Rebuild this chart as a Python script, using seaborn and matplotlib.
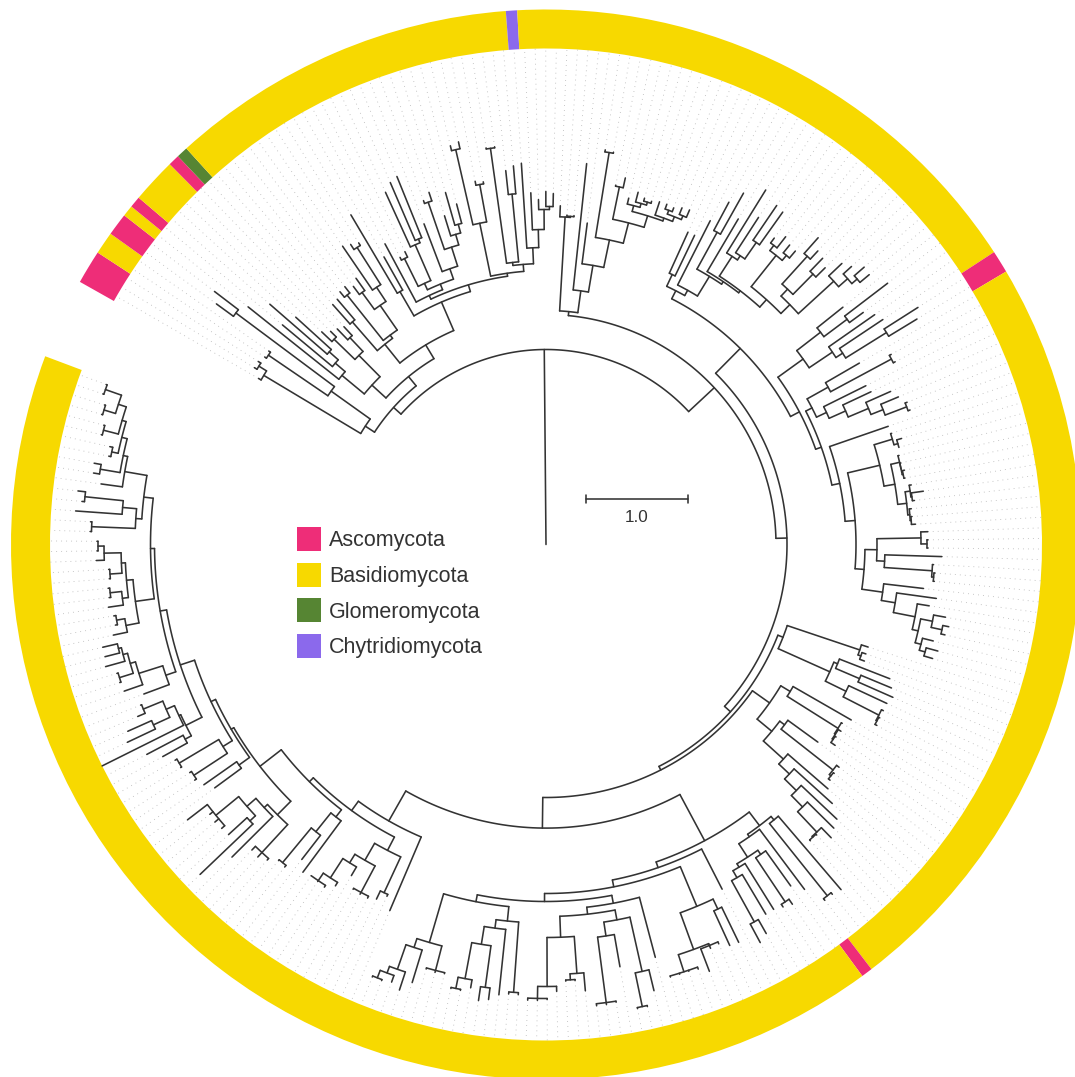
import matplotlib
matplotlib.use('Agg')

import numpy as np
import pandas as pd
import seaborn as sns
import matplotlib.pyplot as plt
from matplotlib.patches import Patch

# Tree. A node is [depth, child, child, ...], a plain number is a leaf.
# Depth is measured from the root, 102 depth units = 1.0 on the scale bar.
clade_a1 = [216, [329, 332, [338, 341, 341]], [264, [336, 338, 338], [387, 408, 417]]]
clade_a2 = [236, [265, 381, [278, 343, [290, 366, 338]]], [266, [295, 309, 303], [285, 300, 297]]]
clade_c1 = [257, [295, 321, 322], [261, [319, 326, 327], [291, [312, 322, 327], [308, 361, [352, 358, 355]]]]]
clade_e1 = [275, 341, [281,
    [288, [319, 322, 325], [327, 387, [331, 394, 397]]],
    [292, 343, [312, [362, 365, 371], [323, 344, [332, 366, 352]]]]]]
clade_e2 = [274, [328, [405, 410, 412], [366, 370, 368]],
    [281, [284, [400, 401, 401], [352, 376, 380]], [297, 382, [315, 352, [335, 345, [338, 353, 351]]]]]]
clade_d = [264, [292, 383, 330], [271, clade_e1, clade_e2]]
clade_a = [205, clade_a1, [217, clade_a2, [233, clade_c1, clade_d]]]

clade_h = [234, [328, 339, [329, 330, 330]], [256, 383, [283, 324, [311, [397, 399, 398], [332, [365, 366, 375], [344,
    [350, 356, [354, 364, [357, 360, 359]]],
    [347, 361, [352, [356, 361, 360], [356, 363, 364]]]]]]]]]

clade_q = [329.5, [369.5, [376, 382, 390], [376, 386, 385]],
    [342, [351.5, [389, 410, 400], [380, 398, 393]], [390, 408, [402, 413, [409, 422, 421]]]]]
clade_m = [343, 417, [348, 390, [368, 410, 408]]]
clade_k = [285, [298, 343, 343], [291, 363, [314, [356, 388, 403], [317, 378, [319.5, clade_m, clade_q]]]]]
clade_l = [317, [347, 380, [376, 430, 393]], [345, 401, [353, 405, [401, 441, 434]]]]
clade_r1 = [299, [323, 362, [392, 394, 394]], [310, 357, [328, 359, [350, 377, [363, 382, [386, 388, 388]]]]]]
clade_t1 = [343, [362, 363, [366, 371, 366]], [354, [363, 364, [363, 364, [364, 366, 365]]],
    [363, [368, 370, [369, 381, 371]], [365, 367, [366, 367, 370]]]]]
clade_t2 = [319, [331, [375, 382, [381, 382, 382]], [339, 396, [387, 388, [389, 390, 390]]]],
    [340, 380, [354, 394, [376, 388, [382, [394, 406, [405, 411, 409]], [388, 399, [394, 406, 403]]]]]]]
clade_j = [276, clade_k, [286, clade_l, [292, clade_r1, [300, 362, [310, clade_t1, clade_t2]]]]]

clade_v1 = [254.5, [331, 338, [334, 338, 339]],
    [311, [315, 369, [341, 374, 379]], [334, 376, [374, 376, [375, 376, 377]]]]]
clade_w1 = [274, [285, 352, [345, 346, [346, 349, [347, 348, 352]]]],
    [293, [299, 336, [365, 368, [367, 368, 369]]],
     [320, 373, [334.5, 386, [351, 400, [367, 404, [395, 409, [396, 397, 397]]]]]]]]

clade_x21 = [353, [357.5, 454, [450, 452, 452]],
    [356, 431, [372, [377, 420, [430, 436, 433]], [376, 430, [384, 430, [431, 447, 452]]]]]]
clade_z1 = [392, [403, 442, 441], [431, [433, 435, 436, 457], [449, 451, 450, 450, 450]]]
clade_dd = [382, [437.6, 459, [472, 473, 473]], [396, 428.6, [462, 463, 464, 464]]]
clade_ee = [393, [430, 448, [436, 437, 437]], [442, 447, [454, 455, 456, 456]]]
clade_ff = [378.5, [449, 451, 451], [387, 452.7, [405, [447, 458.6, 461], [441.6, 449.6, [453, 454, 454]]]]]
clade_gg = [414.7, [440, 441, 442, 441], [424, 458, [450, 469, [457, 464, [465, 466, 466]]]]]
clade_x2 = [336, clade_x21, [342, 387, [349, clade_z1,
    [357, [365, 427, [372, clade_dd, clade_ee]], [364, clade_ff, clade_gg]]]]]

clade_hh = [344.5, [384, 386, 393],
    [364, [394, 396, 396, 395], [374, 384, [397, 401, [406, 408, 407, 406]]]]]
clade_mm = [344, 408, [368, 398.5, [413, 415, 414]]]
clade_oo = [381, [419, 421, 425, 424],
    [385.5, 443, [397.5, [405, 478, 430], [427, 431, 432, 431, 452]]]]
clade_xx = [403, [410, 438, 451], [405, 496, [414, [432, 463, 458], [435, 443, 436]]]]
clade_zz = [402, 429, [427, 446.5, [432.4, [446.8, 448, 448], [437, 457, [440, 455, 455]]]]]
clade_bbb = [414.5, [427.7, 442, [436, 438, 438]],
    [421, [427, 442, [438.5, 440, 440]], [425, [437, 438, 438], [442, 450, [448, 449, 449]]]]]
clade_ccc = [405, [411, [454.7, 456, 456], [425, 471.5, [463.5, 466, 471]]],
    [427.5, 449, [432, [452, 458, 459], [437.5, [444, 446, 447],
     [441.7, [457, 458, 458], [450, [462, 463, 463], [467, 468, 468]]]]]]]
clade_pp = [365, [378, 411, 418], [370, [381, [421, 423, 423], [427, 428, 429]],
    [385, clade_xx, [391.5, clade_zz, [395.5, clade_bbb, clade_ccc]]]]]
clade_x1 = [318, 398, [329.5, clade_hh, [335, clade_mm, [362, clade_oo, clade_pp]]]]

clade_b = [230, clade_h, [241, clade_j, [249, clade_v1, [253, clade_w1, [283.6, clade_x2, clade_x1]]]]]
tree = [195, clade_a, clade_b]

# leaves in clockwise order; everything not listed here is Basidiomycota
ascomycota_leaves = [0, 1, 2, 5, 6, 8, 13, 96, 97, 166]
glomeromycota_leaves = [14]
chytridiomycota_leaves = [46]

phyla = ['Ascomycota', 'Basidiomycota', 'Glomeromycota', 'Chytridiomycota']
phylum_colors = ['#ee2d78', '#f7d900', '#568533', '#8b69ec']

scale_units = 102
scale_label = '1.0'

center_x, center_y = 546, 544.5
start_angle = 150.6
span_angle = 351.2
ring_inner, ring_outer = 496, 535
line_color = '#333333'


def count_leaves(node):
    if isinstance(node, list):
        return sum(count_leaves(c) for c in node[1:])
    return 1


n_leaves = count_leaves(tree)
step = span_angle / n_leaves
leaf_counter = [0]
branch_rows = []
guide_rows = []
seg_id = [0]


def add_segment(rows, thetas, radii):
    for t, r in zip(thetas, radii):
        rows.append({'theta': np.deg2rad(t), 'r': r, 'seg': seg_id[0]})
    seg_id[0] += 1


def leaf_angle(k):
    return start_angle - (k + 0.5) * step


def walk(node, parent_depth):
    # returns the angle of the node and draws its branch
    if isinstance(node, list):
        depth = node[0]
        angles = [walk(c, depth) for c in node[1:]]
        angle = (angles[0] + angles[-1]) / 2
        n_pts = max(2, int(abs(angles[0] - angles[-1])) + 2)
        add_segment(branch_rows, np.linspace(angles[0], angles[-1], n_pts), [depth] * n_pts)
    else:
        depth = node
        angle = leaf_angle(leaf_counter[0])
        leaf_counter[0] += 1
        add_segment(guide_rows, [angle, angle], [depth, ring_inner])
    add_segment(branch_rows, [angle, angle], [parent_depth, depth])
    return angle


walk(tree, 0)
branches = pd.DataFrame(branch_rows)
guides = pd.DataFrame(guide_rows)

sns.set_theme(style='white')
plt.rcParams['font.family'] = ['Liberation Sans', 'DejaVu Sans']

fig = plt.figure(figsize=(10.75, 10.77), dpi=100)
r_max = 548
ax = fig.add_axes([(center_x - r_max) / 1075, 1 - (center_y + r_max) / 1077,
                   2 * r_max / 1075, 2 * r_max / 1077], projection='polar')

sns.lineplot(data=guides, x='theta', y='r', units='seg', estimator=None, sort=False,
             color='#b4b4b4', linewidth=0.6, linestyle=(0, (1, 5)), legend=False, ax=ax)
sns.lineplot(data=branches, x='theta', y='r', units='seg', estimator=None, sort=False,
             color=line_color, linewidth=1.15, solid_capstyle='round', legend=False, ax=ax)


def leaf_color(k):
    if k in ascomycota_leaves:
        return phylum_colors[0]
    if k in glomeromycota_leaves:
        return phylum_colors[2]
    if k in chytridiomycota_leaves:
        return phylum_colors[3]
    return phylum_colors[1]


# neighbouring leaves of one phylum become one bar, so the ring has no seams
run_start = 0
for k in range(1, n_leaves + 1):
    if k == n_leaves or leaf_color(k) != leaf_color(run_start):
        mid = (leaf_angle(run_start) + leaf_angle(k - 1)) / 2
        ax.bar(np.deg2rad(mid), ring_outer - ring_inner, width=np.deg2rad(step * (k - run_start)),
               bottom=ring_inner, color=leaf_color(run_start), linewidth=0)
        run_start = k

ax.set_rlim(0, r_max)
ax.set_axis_off()

# scale bar and legend sit on a plain pixel axes on top
overlay = fig.add_axes([0, 0, 1, 1])
overlay.set_xlim(0, 1075)
overlay.set_ylim(1077, 0)
overlay.set_axis_off()
overlay.patch.set_alpha(0)

bar_x, bar_y = 586, 499
overlay.plot([bar_x, bar_x + scale_units], [bar_y, bar_y], color=line_color, lw=1.15)
overlay.plot([bar_x, bar_x], [bar_y - 4, bar_y + 4], color=line_color, lw=1.15)
overlay.plot([bar_x + scale_units] * 2, [bar_y - 4, bar_y + 4], color=line_color, lw=1.15)
overlay.text(bar_x + scale_units / 2, 517, scale_label, ha='center', va='center',
             fontsize=12.3, color=line_color)

handles = [Patch(facecolor=c, edgecolor='none', label=p) for c, p in zip(phylum_colors, phyla)]
overlay.legend(handles=handles, loc='upper left', bbox_to_anchor=(297 / 1075, 1 - 527 / 1077),
               frameon=False, fontsize=15.5, handlelength=1.116, handleheight=1.34,
               handletextpad=0.37, labelspacing=0.535, borderpad=0, borderaxespad=0,
               labelcolor=line_color)

fig.savefig('out.png', dpi=100)
plt.close(fig)
